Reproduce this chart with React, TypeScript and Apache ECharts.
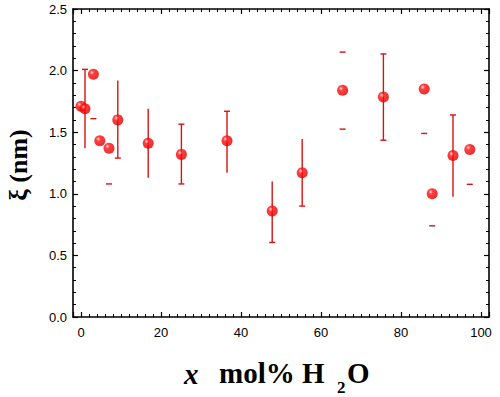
import React, { useEffect, useRef } from "react";
import * as echarts from "echarts";

const xs = [0, 1, 3.1, 4.7, 7, 9.2, 16.8, 25.1, 36.5, 47.8, 55.3, 65.4, 75.6, 85.8, 87.8, 93, 97.2];
const ys = [1.71, 1.69, 1.97, 1.43, 1.37, 1.6, 1.41, 1.32, 1.43, 0.86, 1.17, 1.84, 1.785, 1.85, 1.0, 1.31, 1.36];
const errLow = [null, 1.37, 1.61, null, 1.08, 1.29, 1.13, 1.08, 1.17, 0.605, 0.9, 1.525, 1.435, 1.49, 0.74, 0.976, 1.077];
const errHigh = [null, 2.01, null, null, null, 1.92, 1.69, 1.565, 1.67, 1.1, 1.445, 2.15, 2.135, null, null, 1.64, null];
const stemShown = [0, 1, 0, 0, 0, 1, 1, 1, 1, 1, 1, 0, 1, 0, 0, 1, 0];
const capLowShown = [0, 0, 1, 0, 1, 1, 0, 1, 0, 1, 1, 1, 1, 1, 1, 0, 1];
const capHighShown = [0, 1, 0, 0, 0, 0, 0, 1, 1, 0, 0, 1, 1, 0, 0, 1, 0];

const yTicks = ["0.0", "0.5", "1.0", "1.5", "2.0", "2.5"];

export default function App() {
  const ref = useRef<HTMLDivElement>(null);
  useEffect(() => {
    if (!ref.current) return;
    const chart = echarts.init(ref.current, null, { renderer: "svg" });
    const points = xs.map((x, i) => [x, ys[i]]);
    const bars = xs
      .map((x, i) => [x, errLow[i] ?? ys[i], errHigh[i] ?? ys[i], stemShown[i], capLowShown[i], capHighShown[i]])
      .filter((_, i) => errLow[i] != null || errHigh[i] != null);
    const errColor = "#d41414";
    const axisCommon = {
      type: "value" as const,
      axisLine: { show: true, onZero: false, lineStyle: { color: "#000", width: 1.6 } },
      axisTick: { show: true, inside: true, length: 5, lineStyle: { color: "#000", width: 1.2 } },
      minorTick: { show: true, length: 3, lineStyle: { color: "#000", width: 1 } },
      splitLine: { show: false },
    };
    const labelFont = {
      color: "#000",
      fontFamily: "Liberation Sans, Arial, sans-serif",
      fontSize: 13,
    };
    chart.setOption({
      animation: false,
      backgroundColor: "#fff",
      grid: { left: 73, right: 11, top: 9, bottom: 80 },
      xAxis: [
        {
          ...axisCommon,
          position: "bottom",
          min: -2,
          max: 102,
          splitNumber: 5,
          minorTick: { ...axisCommon.minorTick, splitNumber: 10 },
          axisLabel: {
            ...labelFont,
            margin: 9,
            showMinLabel: false,
            showMaxLabel: false,
            formatter: (v: number) => (Math.abs(v % 20) < 1e-6 ? String(v) : ""),
          },
        },
        {
          ...axisCommon,
          position: "top",
          min: -2,
          max: 102,
          splitNumber: 5,
          minorTick: { ...axisCommon.minorTick, splitNumber: 10 },
          axisLabel: { show: false },
        },
      ],
      yAxis: [
        {
          ...axisCommon,
          position: "left",
          min: 0,
          max: 2.5,
          interval: 0.5,
          minorTick: { ...axisCommon.minorTick, splitNumber: 5 },
          axisLabel: {
            ...labelFont,
            margin: 6,
            formatter: (v: number) => yTicks[Math.round(v / 0.5)] ?? "",
          },
        },
        {
          ...axisCommon,
          position: "right",
          min: 0,
          max: 2.5,
          interval: 0.5,
          minorTick: { ...axisCommon.minorTick, splitNumber: 5 },
          axisLabel: { show: false },
        },
      ],
      series: [
        {
          type: "custom",
          xAxisIndex: 0,
          yAxisIndex: 0,
          data: bars,
          renderItem: (params: any, api: any) => {
            const x = api.value(0);
            const lo = api.coord([x, api.value(1)]);
            const hi = api.coord([x, api.value(2)]);
            const children: any[] = [];
            const style = { stroke: errColor, lineWidth: 1.4 };
            const hw = 3;
            if (api.value(3)) {
              children.push({ type: "line", shape: { x1: lo[0], y1: lo[1], x2: hi[0], y2: hi[1] }, style });
            }
            if (api.value(4)) {
              children.push({ type: "line", shape: { x1: lo[0] - hw, y1: lo[1], x2: lo[0] + hw, y2: lo[1] }, style });
            }
            if (api.value(5)) {
              children.push({ type: "line", shape: { x1: hi[0] - hw, y1: hi[1], x2: hi[0] + hw, y2: hi[1] }, style });
            }
            return { type: "group", children };
          },
          z: 1,
        },
        {
          type: "scatter",
          data: points,
          symbol: "circle",
          symbolSize: 11,
          itemStyle: {
            color: new echarts.graphic.RadialGradient(0.36, 0.33, 0.72, [
              { offset: 0, color: "#ffd6d6" },
              { offset: 0.28, color: "#ff1010" },
              { offset: 0.75, color: "#f00000" },
              { offset: 1, color: "#d00000" },
            ]),
          },
          z: 2,
        },
      ],
      graphic: [
        {
          type: "text",
          x: 184,
          y: 374,
          style: {
            text: "x",
            font: "italic bold 29px 'Liberation Serif', 'Times New Roman', serif",
            fill: "#000",
            verticalAlign: "middle",
          },
        },
        {
          type: "text",
          x: 219,
          y: 373,
          style: {
            text: "mol% H",
            font: "bold 29px 'Liberation Serif', 'Times New Roman', serif",
            fill: "#000",
            verticalAlign: "middle",
          },
        },
        {
          type: "text",
          x: 337,
          y: 387,
          style: {
            text: "2",
            font: "bold 17px 'Liberation Serif', 'Times New Roman', serif",
            fill: "#000",
            verticalAlign: "middle",
          },
        },
        {
          type: "text",
          x: 347,
          y: 373,
          style: {
            text: "O",
            font: "bold 29px 'Liberation Serif', 'Times New Roman', serif",
            fill: "#000",
            verticalAlign: "middle",
          },
        },
        {
          type: "text",
          x: 18,
          y: 165,
          rotation: Math.PI / 2,
          style: {
            text: "ξ (nm)",
            font: "bold 26px 'Liberation Serif', 'Times New Roman', serif",
            fill: "#000",
            align: "center",
            verticalAlign: "middle",
          },
        },
      ],
    });
    return () => chart.dispose();
  }, []);
  return (
    <div style={{ position: "fixed", left: 0, top: 0, width: 500, height: 397, background: "#fff" }}>
      <div ref={ref} style={{ width: 500, height: 397 }} />
    </div>
  );
}
